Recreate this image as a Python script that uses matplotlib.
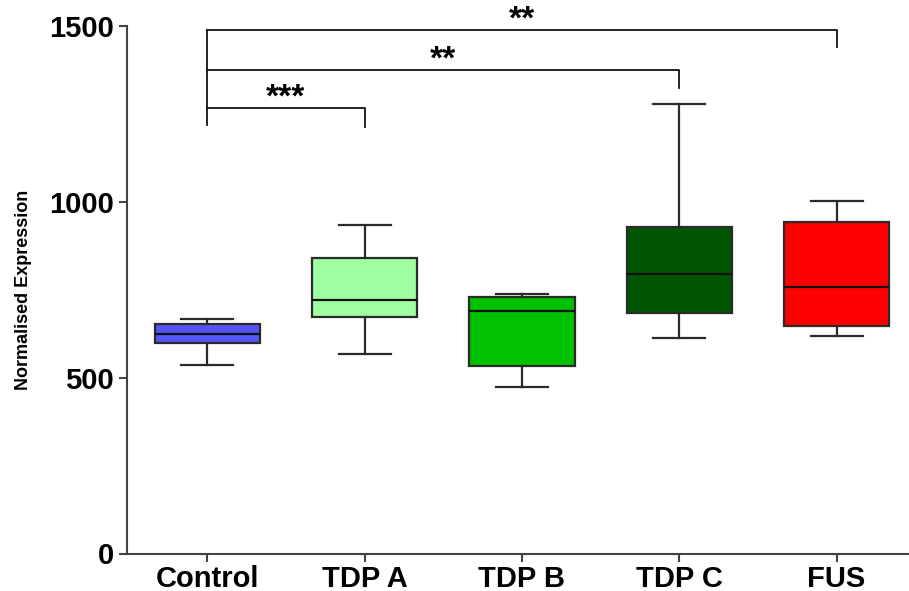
import matplotlib.pyplot as plt

plt.rcParams['font.family'] = ['Liberation Sans', 'DejaVu Sans']
plt.rcParams['font.weight'] = 'bold'

groups = ['Control', 'TDP A', 'TDP B', 'TDP C', 'FUS']
whislo = [535, 566, 474, 612, 619]
q1 = [600, 672, 534, 685, 647]
med = [623, 721, 690, 796, 759]
q3 = [652, 841, 730, 929, 943]
whishi = [667, 934, 737, 1277, 1002]
colors = ['#5555f5', '#a0ffa0', '#00c000', '#005500', '#ff0000']

# significance brackets: (target group index, bar height, drop end, label)
sig = [(4, 1488, 1440, '**'), (3, 1375, 1323, '**'), (1, 1267, 1213, '***')]

fig = plt.figure(figsize=(9.09, 5.91), dpi=100)
ax = fig.add_axes([127 / 909, 1 - 553.5 / 591, 1 - 127 / 909, (553.5 - 26) / 591])

stats = []
for i, g in enumerate(groups):
    stats.append(dict(label=g, whislo=whislo[i], q1=q1[i], med=med[i],
                      q3=q3[i], whishi=whishi[i], fliers=[]))

lc = '#2a2a2a'
bp = ax.bxp(stats, positions=range(1, 6), widths=0.67, patch_artist=True,
            showfliers=False,
            boxprops=dict(linewidth=1.6, edgecolor=lc),
            medianprops=dict(color='#111111', linewidth=1.6),
            whiskerprops=dict(color=lc, linewidth=1.6),
            capprops=dict(color=lc, linewidth=1.6),
            capwidths=0.33)
for patch, c in zip(bp['boxes'], colors):
    patch.set_facecolor(c)

ax.set_xlim(0.49, 5.46)
ax.set_ylim(0, 1500)
ax.set_yticks([0, 500, 1000, 1500])
ax.tick_params(axis='both', labelsize=21, width=1.5, length=6, color='#444444')
ax.tick_params(axis='x', pad=2)
for lab in ax.get_xticklabels() + ax.get_yticklabels():
    lab.set_fontweight('bold')
ax.spines['top'].set_visible(False)
ax.spines['right'].set_visible(False)
for s in ['left', 'bottom']:
    ax.spines[s].set_linewidth(1.5)
    ax.spines[s].set_color('#444444')

ax.set_ylabel('Normalised Expression', fontsize=13, fontweight='bold', labelpad=12)

ax.plot([1, 1], [1218, 1488], color='#111111', lw=1.3, clip_on=False)
for idx, h, d, lab in sig:
    x2 = idx + 1
    ax.plot([1, x2, x2], [h, h, d], color='#111111', lw=1.3, clip_on=False)
    ax.text((1 + x2) / 2, h + 4, lab, ha='center', va='baseline',
            fontsize=24, fontweight='bold')

fig.savefig('out.png', dpi=100)
